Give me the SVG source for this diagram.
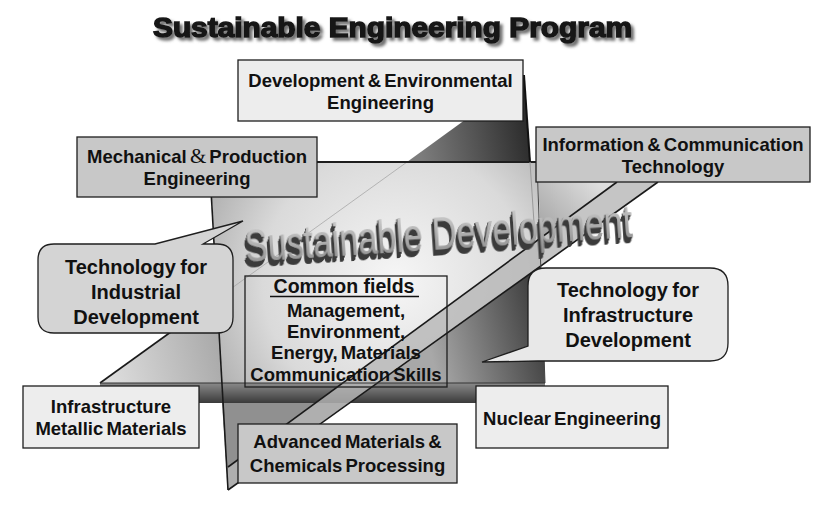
<svg xmlns="http://www.w3.org/2000/svg" width="828" height="512" viewBox="0 0 828 512">
<defs>
<style>
.bx{stroke:#1e1e1e;stroke-width:1.3}
.lt{fill:#ededed}
.dk{fill:#c8c8c8}
.t{font-family:"Liberation Sans",Arial,sans-serif;font-weight:bold;fill:#111;text-anchor:middle}
.t18{font-size:18.5px;word-spacing:-2px}
.t20{font-size:20px;word-spacing:-1px}
.edge{stroke:#1a1a1a;stroke-width:1.6;fill:none}
</style>
<radialGradient id="gFloor" gradientUnits="userSpaceOnUse" cx="395" cy="280" r="265">
<stop offset="0" stop-color="#f6f6f6"/>
<stop offset="0.5" stop-color="#dadada"/>
<stop offset="1" stop-color="#8c8c8c"/>
</radialGradient>
<linearGradient id="gTop" gradientUnits="userSpaceOnUse" x1="420" y1="150" x2="528" y2="130">
<stop offset="0" stop-color="#7c7c7c"/>
<stop offset="0.5" stop-color="#555"/>
<stop offset="1" stop-color="#2c2c2c"/>
</linearGradient>
<linearGradient id="gDark" gradientUnits="userSpaceOnUse" x1="430" y1="350" x2="545" y2="320">
<stop offset="0" stop-color="#a8a8a8"/>
<stop offset="1" stop-color="#3c3c3c"/>
</linearGradient>
<linearGradient id="gBand" x1="0" y1="0" x2="0" y2="1">
<stop offset="0" stop-color="#8a8a8a"/>
<stop offset="1" stop-color="#3a3a3a"/>
</linearGradient>
<linearGradient id="gLeft" gradientUnits="userSpaceOnUse" x1="110" y1="370" x2="222" y2="340">
<stop offset="0" stop-color="#dcdcdc"/>
<stop offset="1" stop-color="#a8a8a8"/>
</linearGradient>
<linearGradient id="gRight" gradientUnits="userSpaceOnUse" x1="600" y1="185" x2="545" y2="235">
<stop offset="0" stop-color="#dedede"/>
<stop offset="1" stop-color="#a6a6a6"/>
</linearGradient>
<linearGradient id="gFace" x1="0" y1="0" x2="0" y2="1">
<stop offset="0" stop-color="#d4d4d4"/>
<stop offset="1" stop-color="#8c8c8c"/>
</linearGradient>
<filter id="shadow" x="-5%" y="-30%" width="110%" height="170%">
<feGaussianBlur in="SourceAlpha" stdDeviation="1.5"/>
<feOffset dx="3" dy="3" result="b"/>
<feFlood flood-color="#6e6e6e"/>
<feComposite operator="in" in2="b" result="s"/>
<feMerge><feMergeNode in="s"/><feMergeNode in="SourceGraphic"/></feMerge>
</filter>
<filter id="extrude" x="-5%" y="-30%" width="110%" height="170%">
<feOffset in="SourceAlpha" dx="-0.6" dy="1.2" result="a1"/>
<feOffset in="SourceAlpha" dx="-1.2" dy="2.4" result="a2"/>
<feOffset in="SourceAlpha" dx="-1.8" dy="3.6" result="a3"/>
<feOffset in="SourceAlpha" dx="-2.4" dy="4.8" result="a4"/>
<feOffset in="SourceAlpha" dx="-3" dy="6" result="a5"/>
<feMerge result="ex"><feMergeNode in="a1"/><feMergeNode in="a2"/><feMergeNode in="a3"/><feMergeNode in="a4"/><feMergeNode in="a5"/></feMerge>
<feFlood flood-color="#3a3a3a"/>
<feComposite operator="in" in2="ex" result="exd"/>
<feMerge><feMergeNode in="exd"/><feMergeNode in="SourceGraphic"/></feMerge>
</filter>
</defs>
<rect width="828" height="512" fill="#ffffff"/>

<g id="connectors">
<polygon points="407,162 524,77 530,162" fill="url(#gTop)"/>
<polygon points="210,162 537,162 545,383 222,383" fill="url(#gFloor)"/>
<polygon points="377,383 541,266 545,383" fill="url(#gDark)"/>
<polygon points="100,383 218,298 222,383" fill="url(#gLeft)"/>
<polygon points="538,182 617,182 541,238" fill="url(#gRight)"/>
<polygon points="100,383 545,383 545,403 100,403" fill="url(#gBand)"/>
<polygon points="222,403 228,490 349.5,403" fill="#909090"/>
<polygon points="228,467 617,182 658,182 228,490" fill="#b6b6b6" fill-opacity="0.8"/>
<line class="edge" x1="228" y1="467" x2="617" y2="182"/>
<line class="edge" x1="228" y1="490" x2="658" y2="182"/>
<line x1="218" y1="298" x2="407" y2="162" stroke="#a0a0a0" stroke-width="1" stroke-opacity="0.7"/>
<line class="edge" x1="100" y1="383" x2="218" y2="298"/>
<line x1="210" y1="162" x2="537" y2="162" stroke="#1e1e1e" stroke-width="1.8"/>
<line x1="537" y1="162" x2="545" y2="383" stroke="#444" stroke-width="1"/>
<line x1="524" y1="75" x2="530" y2="162" stroke="#111" stroke-width="2"/>
<line x1="530" y1="162" x2="535" y2="238" stroke="#999" stroke-width="1"/>
<line x1="100" y1="383" x2="545" y2="383" stroke="#333" stroke-width="1"/>
<line class="edge" x1="211" y1="190" x2="228" y2="490"/>
</g>

<g id="title">
<text x="153" y="37" font-family="'Liberation Sans',Arial,sans-serif" font-weight="bold" font-size="27" textLength="479" lengthAdjust="spacingAndGlyphs" fill="#151515" stroke="#151515" stroke-width="1.5" filter="url(#shadow)">Sustainable Engineering Program</text>
</g>

<g id="sustainable-development">
<text x="246" y="262" font-family="'Liberation Sans',Arial,sans-serif" font-size="47" textLength="388" lengthAdjust="spacingAndGlyphs" fill="url(#gFace)" transform="rotate(-3.7 245 262)" filter="url(#extrude)">Sustainable Development</text>
</g>

<g id="node-dev">
<rect class="bx lt" x="238" y="60" width="285" height="61"/>
<text class="t t18" x="380.5" y="87">Development &amp; Environmental</text>
<text class="t t18" x="380.5" y="109">Engineering</text>
</g>

<g id="node-mech">
<rect class="bx dk" x="77" y="137" width="240" height="60"/>
<text class="t t18" x="197" y="163" font-size="19px">Mechanical <tspan font-family="'Liberation Serif',serif" font-weight="normal" font-size="21px">&amp;</tspan> Production</text>
<text class="t t18" x="197" y="185" font-size="19px">Engineering</text>
</g>

<g id="node-ict">
<rect class="bx dk" x="536" y="127" width="274" height="55"/>
<text class="t t18" x="673" y="151">Information &amp; Communication</text>
<text class="t t18" x="673" y="173">Technology</text>
</g>

<g id="callout-industrial">
<path class="bx" fill="#d4d4d4" d="M54,244 H155 L243,221 L203,244 H217 Q233,244 233,260 V317 Q233,333 217,333 H54 Q38,333 38,317 V260 Q38,244 54,244 Z"/>
<text class="t t20" x="136" y="274">Technology for</text>
<text class="t t20" x="136" y="299">Industrial</text>
<text class="t t20" x="136" y="324">Development</text>
</g>

<g id="callout-infrastructure">
<path class="bx" fill="#e8e8e8" d="M546,268 H710 Q728,268 728,286 V343 Q728,361 710,361 H538 L482,362 L528,346 V286 Q528,268 546,268 Z"/>
<text class="t t20" x="628" y="297">Technology for</text>
<text class="t t20" x="628" y="322">Infrastructure</text>
<text class="t t20" x="628" y="347">Development</text>
</g>

<g id="node-common">
<rect x="245" y="276" width="202" height="111" fill="none" stroke="#1e1e1e" stroke-width="1.3"/>
<text class="t" x="344" y="293" font-size="19.5px">Common fields</text>
<line x1="270" y1="296.5" x2="419" y2="296.5" stroke="#111" stroke-width="1.3"/>
<text class="t t18" x="346" y="317" font-size="18px">Management,</text>
<text class="t t18" x="346" y="338" font-size="18px">Environment,</text>
<text class="t t18" x="346" y="359" font-size="18px">Energy, Materials</text>
<text class="t t18" x="346" y="381" font-size="18px">Communication Skills</text>
</g>

<g id="node-infra">
<rect class="bx lt" x="23" y="386" width="176" height="62"/>
<text class="t t18" x="111" y="413" font-size="18px">Infrastructure</text>
<text class="t t18" x="111" y="435" font-size="18px">Metallic Materials</text>
</g>

<g id="node-advanced">
<rect class="bx dk" x="238" y="424" width="219" height="59"/>
<text class="t t18" x="347.5" y="448" font-size="18px">Advanced Materials &amp;</text>
<text class="t t18" x="347.5" y="472" font-size="18px">Chemicals Processing</text>
</g>

<g id="node-nuclear">
<rect class="bx lt" x="476" y="386" width="192" height="62"/>
<text class="t t18" x="572" y="425">Nuclear Engineering</text>
</g>
</svg>
